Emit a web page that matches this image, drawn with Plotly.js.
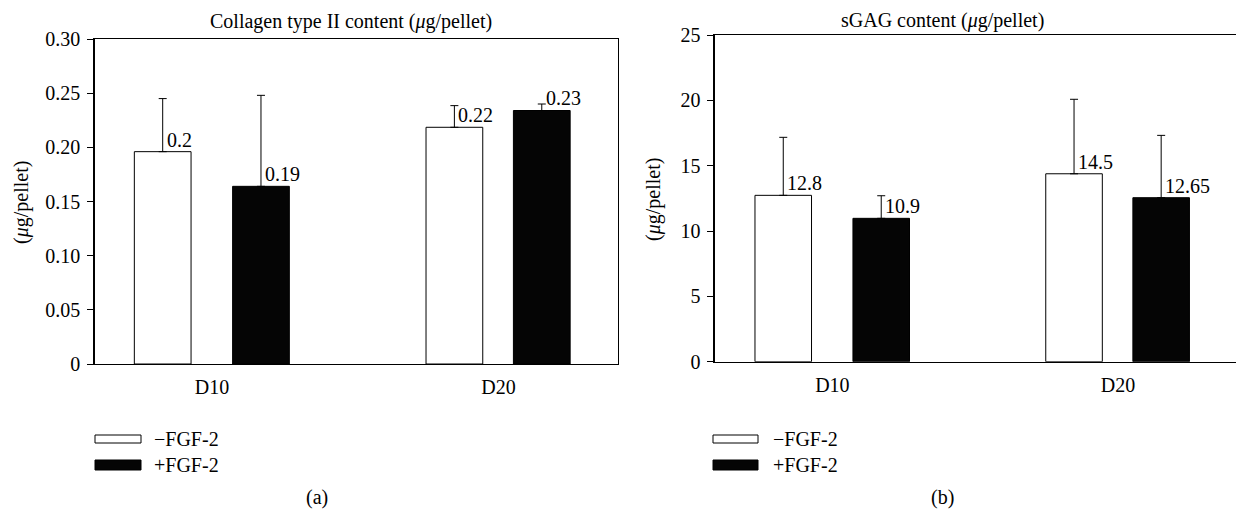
<!DOCTYPE html>
<html>
<head>
<meta charset="utf-8">
<script src="https://cdn.plot.ly/plotly-3.0.1.min.js"></script>
<style>html,body{margin:0;padding:0;background:#fff;}#chart{width:1236px;height:510px;}</style>
</head>
<body>
<div id="chart"></div>
<script>
// ---- data ----
const categories = ['D10', 'D20'];
const seriesNames = ['\u2212FGF-2', '+FGF-2'];

const collagenMinus = [0.196, 0.2185];
const collagenMinusErr = [0.049, 0.020];
const collagenMinusLabels = ['0.2', '0.22'];
const collagenPlus = [0.164, 0.234];
const collagenPlusErr = [0.084, 0.006];
const collagenPlusLabels = ['0.19', '0.23'];

const gagMinus = [12.73, 14.38];
const gagMinusErr = [4.44, 5.70];
const gagMinusLabels = ['12.8', '14.5'];
const gagPlus = [10.97, 12.55];
const gagPlusErr = [1.73, 4.77];
const gagPlusLabels = ['10.9', '12.65'];

const collagenTickVals = [0, 0.05, 0.10, 0.15, 0.20, 0.25, 0.30];
const collagenTickText = ['0', '0.05', '0.10', '0.15', '0.20', '0.25', '0.30'];
const gagTickVals = [0, 5, 10, 15, 20, 25];
const gagTickText = ['0', '5', '10', '15', '20', '25'];

// ---- style ----
const FONT = 'Liberation Serif, Times New Roman, serif';
const FS = 20;
const W = 1236, H = 510;
const barWidth = 0.198;
const offMinus = [-0.271, -0.253];
const offPlus = [0.072, 0.052];

function barTrace(y, err, fill, offs, xa, ya, name) {
  return {
    type: 'bar', x: categories, y: y, name: name,
    xaxis: xa, yaxis: ya, width: barWidth, offset: offs,
    marker: {color: fill, line: {color: '#000', width: 1}},
    error_y: {type: 'data', symmetric: false, array: err, arrayminus: err.map(() => 0),
              color: '#000', thickness: 1, width: 4},
    showlegend: false, hoverinfo: 'skip'
  };
}

const data = [
  barTrace(collagenMinus, collagenMinusErr, '#ffffff', offMinus, 'x', 'y', seriesNames[0]),
  barTrace(collagenPlus, collagenPlusErr, '#050505', offPlus, 'x', 'y', seriesNames[1]),
  barTrace(gagMinus, gagMinusErr, '#ffffff', offMinus, 'x2', 'y2', seriesNames[0]),
  barTrace(gagPlus, gagPlusErr, '#050505', offPlus, 'x2', 'y2', seriesNames[1])
];

const annotations = [];
function valueLabels(vals, labels, offs, xref, yref) {
  vals.forEach((v, i) => {
    annotations.push({
      xref: xref, yref: yref, x: i + offs[i] + barWidth / 2, y: v,
      text: labels[i], showarrow: false, xanchor: 'left', yanchor: 'bottom',
      xshift: 2, yshift: -1, font: {family: FONT, size: FS, color: '#000'}
    });
  });
}
valueLabels(collagenMinus, collagenMinusLabels, offMinus, 'x', 'y');
valueLabels(collagenPlus, collagenPlusLabels, offPlus, 'x', 'y');
valueLabels(gagMinus, gagMinusLabels, offMinus, 'x2', 'y2');
valueLabels(gagPlus, gagPlusLabels, offPlus, 'x2', 'y2');

function px(x) { return x / W; }
function py(y) { return 1 - y / H; }
function txt(text, x, y, extra) {
  annotations.push(Object.assign({
    xref: 'paper', yref: 'paper', x: px(x), y: py(y), text: text, showarrow: false,
    xanchor: 'center', yanchor: 'middle', font: {family: FONT, size: FS, color: '#000'}
  }, extra || {}));
}
txt('Collagen type II content (<i>\u03bc</i>g/pellet)', 351, 22);
txt('sGAG content (<i>\u03bc</i>g/pellet)', 942, 21);
txt('(<i>\u03bc</i>g/pellet)', 22, 203, {textangle: -90});
txt('(<i>\u03bc</i>g/pellet)', 654, 200, {textangle: -90});
txt('(a)', 317, 497);
txt('(b)', 942, 497);
// legends
txt(seriesNames[0], 152, 439, {xanchor: 'left'});
txt(seriesNames[1], 152, 465, {xanchor: 'left'});
txt(seriesNames[0], 771, 439, {xanchor: 'left'});
txt(seriesNames[1], 771, 465, {xanchor: 'left'});

function rect(x0, y0, x1, y1, fill) {
  return {type: 'rect', xref: 'paper', yref: 'paper', x0: px(x0), x1: px(x1), y0: py(y1), y1: py(y0),
          fillcolor: fill, line: {color: '#000', width: 1}};
}
const shapes = [
  rect(95, 435, 141, 443, '#ffffff'), rect(95, 460, 141, 470, '#050505'),
  rect(713, 435, 758, 443, '#ffffff'), rect(713, 460, 758, 470, '#050505')
];

const xCommon = {
  type: 'category', showline: true, linecolor: '#000', linewidth: 1.3, mirror: true,
  ticks: '', showgrid: false, zeroline: false, fixedrange: true,
  tickfont: {family: FONT, size: FS, color: '#000'}, ticklabelstandoff: 5
};
const yCommon = {
  showline: true, linecolor: '#000', linewidth: 1.3, ticks: 'outside', ticklen: 6,
  tickcolor: '#000', showgrid: false, zeroline: false, fixedrange: true,
  tickfont: {family: FONT, size: FS, color: '#000'}, tickmode: 'array', ticklabelstandoff: 3
};

const layout = {
  width: W, height: H, margin: {l: 0, r: 0, t: 0, b: 0},
  paper_bgcolor: '#fff', plot_bgcolor: '#fff', barmode: 'overlay', showlegend: false,
  xaxis: Object.assign({}, xCommon, {domain: [px(94.5), px(618)], range: [-0.41, 1.417], anchor: 'y'}),
  yaxis: Object.assign({}, yCommon, {domain: [py(364), py(39)], range: [0, 0.30], anchor: 'x',
    tickvals: collagenTickVals, ticktext: collagenTickText, mirror: true}),
  xaxis2: Object.assign({}, xCommon, {domain: [px(714.7), 1], range: [-0.412, 1.413], anchor: 'y2'}),
  yaxis2: Object.assign({}, yCommon, {domain: [py(361.7), py(35)], range: [0, 25], anchor: 'x2',
    tickvals: gagTickVals, ticktext: gagTickText}),
  annotations: annotations, shapes: shapes
};

Plotly.newPlot('chart', data, layout, {displayModeBar: false, staticPlot: true});
</script>
</body>
</html>
